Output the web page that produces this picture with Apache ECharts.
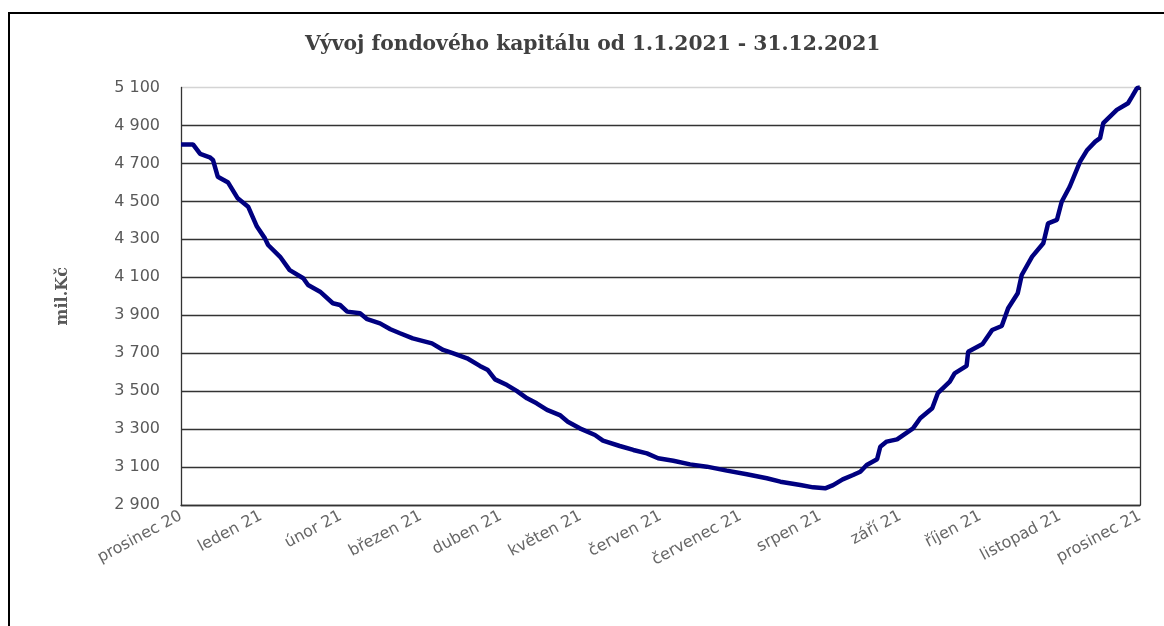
<!DOCTYPE html>
<html>
<head>
<meta charset="utf-8">
<script src="https://cdn.jsdelivr.net/npm/echarts@6/dist/echarts.min.js"></script>
<style>
    html, body { margin: 0; padding: 0; background: #fff; }
    #chart { width: 1164px; height: 626px; }
</style>
</head>
<body>
<div id="chart"></div>
<script>
    // osa X - mesice
    var monthLabels = ['prosinec 20', 'leden 21', 'únor 21', 'březen 21', 'duben 21', 'květen 21', 'červen 21',
        'červenec 21', 'srpen 21', 'září 21', 'říjen 21', 'listopad 21', 'prosinec 21'];

    // poloha bodu v mesicich od prosince 20
    var monthPos = [0.00, 0.15, 0.24, 0.36, 0.40, 0.46, 0.59, 0.71, 0.84, 0.95,
        1.05, 1.09, 1.24, 1.36, 1.53, 1.59, 1.74, 1.90, 1.99, 2.08,
        2.24, 2.33, 2.49, 2.62, 2.74, 2.90, 3.14, 3.28, 3.40, 3.58,
        3.74, 3.84, 3.93, 4.08, 4.20, 4.33, 4.45, 4.58, 4.74, 4.84,
        4.99, 5.18, 5.28, 5.49, 5.66, 5.83, 5.97, 6.16, 6.37, 6.58,
        6.83, 7.08, 7.33, 7.50, 7.75, 7.91, 8.06, 8.16, 8.28, 8.41,
        8.50, 8.58, 8.71, 8.75, 8.83, 8.96, 9.16, 9.25, 9.40, 9.47,
        9.62, 9.68, 9.83, 9.85, 10.03, 10.15, 10.27, 10.35, 10.47, 10.52,
        10.65, 10.79, 10.85, 10.96, 11.02, 11.12, 11.25, 11.34, 11.44, 11.50,
        11.54, 11.71, 11.85, 11.90, 11.96, 12.00];

    // fondovy kapital v mil. Kc
    var capital = [4800, 4800, 4750, 4732, 4718, 4630, 4599, 4516, 4472, 4367,
        4305, 4270, 4208, 4138, 4095, 4059, 4024, 3963, 3954, 3919,
        3910, 3879, 3857, 3826, 3805, 3778, 3752, 3717, 3700, 3673,
        3633, 3611, 3562, 3532, 3501, 3462, 3436, 3401, 3374, 3339,
        3304, 3269, 3239, 3211, 3190, 3172, 3146, 3133, 3114, 3102,
        3081, 3062, 3041, 3023, 3005, 2993, 2988, 3005, 3035, 3058,
        3075, 3111, 3141, 3207, 3234, 3246, 3304, 3357, 3410, 3489,
        3550, 3594, 3633, 3708, 3748, 3822, 3843, 3937, 4016, 4112,
        4209, 4279, 4384, 4402, 4498, 4577, 4709, 4771, 4815, 4833,
        4912, 4982, 5017, 5052, 5096, 5100];

    var yMin = 2900, yMax = 5100, yStep = 200;

    var chart = echarts.init(document.getElementById('chart'));

    var points = [];
    for (var i = 0; i < monthPos.length; i++) {
        points.push([monthPos[i], capital[i]]);
    }

    function fmt(v) {
        return String(v).replace(/\B(?=(\d{3})+(?!\d))/g, ' ');
    }

    // barvy mrizky - posledni (horni) svetle seda
    var gridColors = [];
    for (var k = yMin; k < yMax; k += yStep) gridColors.push('#333');
    gridColors.push('#d4d4d4');

    var option = {
        backgroundColor: '#fff',
        animation: false,
        title: {
            text: 'Vývoj fondového kapitálu od 1.1.2021 - 31.12.2021',
            left: 300,
            top: 30,
            textStyle: {
                fontFamily: 'DejaVu Serif',
                fontWeight: 'bold',
                fontSize: 20.3,
                color: '#404040'
            }
        },
        graphic: [{
            type: 'rect',
            z: -1,
            shape: { x: 9, y: 13, width: 1200, height: 700 },
            style: { fill: 'none', stroke: '#000', lineWidth: 2 }
        }],
        grid: { left: 181, right: 24, top: 87.5, bottom: 121 },
        xAxis: {
            type: 'value',
            min: 0,
            max: monthLabels.length - 1,
            interval: 1,
            axisLine: { show: true, lineStyle: { color: '#333', width: 1.3 } },
            axisTick: { show: false },
            splitLine: { show: false },
            axisLabel: {
                rotate: 28,
                margin: 10,
                fontFamily: 'DejaVu Sans',
                fontSize: 16,
                color: '#666',
                showMinLabel: true,
                showMaxLabel: true,
                formatter: function (v) { return monthLabels[Math.round(v)]; }
            }
        },
        yAxis: [{
            type: 'value',
            min: yMin,
            max: yMax,
            interval: yStep,
            name: 'mil.Kč',
            nameLocation: 'middle',
            nameRotate: 90,
            nameGap: 110,
            nameTextStyle: {
                fontFamily: 'DejaVu Serif',
                fontWeight: 'bold',
                fontSize: 16,
                color: '#595959'
            },
            axisLine: { show: true, lineStyle: { color: '#333', width: 1.3 } },
            axisTick: { show: false },
            splitLine: { show: true, lineStyle: { color: gridColors, width: 1.3 } },
            axisLabel: {
                margin: 21,
                fontFamily: 'DejaVu Sans',
                fontSize: 16,
                color: '#595959',
                formatter: fmt
            }
        }, {
            type: 'value',
            position: 'right',
            min: yMin,
            max: yMax,
            interval: yStep,
            axisLine: { show: true, lineStyle: { color: '#333', width: 1.3 } },
            axisTick: { show: false },
            axisLabel: { show: false },
            splitLine: { show: false }
        }],
        series: [{
            type: 'line',
            yAxisIndex: 0,
            data: points,
            showSymbol: false,
            clip: false,
            lineStyle: { color: '#000080', width: 4.5 },
            itemStyle: { color: '#000080' }
        }]
    };

    chart.setOption(option);

    window.onresize = function () {
        chart.resize();
    };
</script>
</body>
</html>
